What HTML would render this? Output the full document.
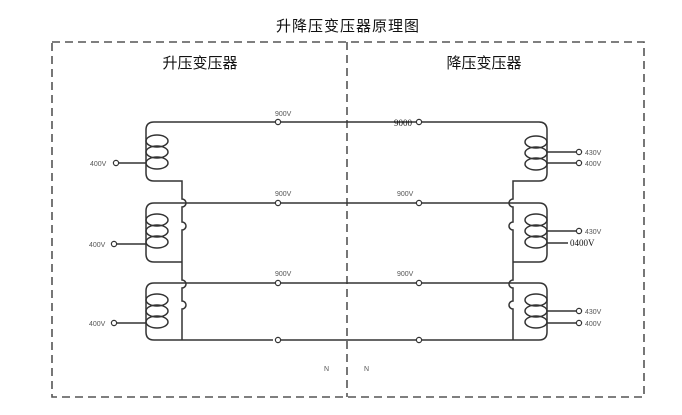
<!DOCTYPE html>
<html><head><meta charset="utf-8"><style>
html,body{margin:0;padding:0;background:#fff;width:682px;height:415px;overflow:hidden}
svg{display:block}
.t{font-family:"Liberation Sans",sans-serif;font-size:7px;fill:#555}
.c{font-family:"Liberation Sans","Noto Sans CJK SC",sans-serif;fill:#111}
</style></head><body>
<svg width="682" height="415" viewBox="0 0 682 415" xmlns="http://www.w3.org/2000/svg">
<g fill="none" stroke="#555" stroke-width="1.6" stroke-dasharray="8,5">
<path d="M52 42 H644 V397 H52 Z"/>
<path d="M347 42 V397"/>
</g>
<text class="c" x="348" y="31" font-size="15" text-anchor="middle" letter-spacing="1">升降压变压器原理图</text>
<text class="c" x="200" y="68" font-size="15" text-anchor="middle">升压变压器</text>
<text class="c" x="484" y="68" font-size="15" text-anchor="middle">降压变压器</text>

<g fill="none" stroke="#333" stroke-width="1.5">
<path d="M276 122 H154 Q146 122 146 130 V173 Q146 181 154 181 H182 V199 a4 4 0 0 1 0 8 V222 a4 4 0 0 1 0 8 V280 a4 4 0 0 1 0 8 V301 a4 4 0 0 1 0 8 V340"/>
<path d="M276 203 H154 Q146 203 146 211 V254 Q146 262 154 262 H182"/>
<path d="M276 283 H154 Q146 283 146 291 V332 Q146 340 154 340 H273"/>

<path d="M280 122 H416"/><path d="M422 122 H539 Q547 122 547 130 V173 Q547 181 539 181 H513 V199 a4 4 0 0 0 0 8 V222 a4 4 0 0 0 0 8 V280 a4 4 0 0 0 0 8 V301 a4 4 0 0 0 0 8 V340"/>
<path d="M280 203 H416"/><path d="M422 203 H539 Q547 203 547 211 V254 Q547 262 539 262 H513"/>
<path d="M280 283 H416"/><path d="M422 283 H539 Q547 283 547 291 V332 Q547 340 539 340 H422"/>
<path d="M280 340 H416"/>

<ellipse cx="157" cy="141" rx="11" ry="6"/><ellipse cx="157" cy="152" rx="11" ry="6"/><ellipse cx="157" cy="163" rx="11" ry="6"/>
<ellipse cx="157" cy="220" rx="11" ry="6"/><ellipse cx="157" cy="231" rx="11" ry="6"/><ellipse cx="157" cy="242" rx="11" ry="6"/>
<ellipse cx="157" cy="300" rx="11" ry="6"/><ellipse cx="157" cy="311" rx="11" ry="6"/><ellipse cx="157" cy="322" rx="11" ry="6"/>
<ellipse cx="536" cy="142" rx="11" ry="6"/><ellipse cx="536" cy="153" rx="11" ry="6"/><ellipse cx="536" cy="164" rx="11" ry="6"/>
<ellipse cx="536" cy="220" rx="11" ry="6"/><ellipse cx="536" cy="231" rx="11" ry="6"/><ellipse cx="536" cy="242" rx="11" ry="6"/>
<ellipse cx="536" cy="300" rx="11" ry="6"/><ellipse cx="536" cy="311" rx="11" ry="6"/><ellipse cx="536" cy="322" rx="11" ry="6"/>

<path d="M119 163 H146"/><path d="M117 244 H146"/><path d="M117 323 H146"/>
<path d="M547 152 H576"/><path d="M547 163 H576"/>
<path d="M547 231 H576"/><path d="M547 243 H568"/>
<path d="M547 311 H576"/><path d="M547 323 H576"/>
</g>
<g fill="#fff" stroke="#333" stroke-width="1.2">
<circle cx="116" cy="163" r="2.6"/><circle cx="114" cy="244" r="2.6"/><circle cx="114" cy="323" r="2.6"/>
<circle cx="278" cy="122" r="2.6"/><circle cx="278" cy="203" r="2.6"/><circle cx="278" cy="283" r="2.6"/><circle cx="278" cy="340" r="2.6"/>
<circle cx="419" cy="122" r="2.6"/><circle cx="419" cy="203" r="2.6"/><circle cx="419" cy="283" r="2.6"/><circle cx="419" cy="340" r="2.6"/>
<circle cx="579" cy="152" r="2.6"/><circle cx="579" cy="163" r="2.6"/>
<circle cx="579" cy="231" r="2.6"/>
<circle cx="579" cy="311" r="2.6"/><circle cx="579" cy="323" r="2.6"/>
</g>
<text class="t" x="90" y="166">400V</text>
<text class="t" x="89" y="247">400V</text>
<text class="t" x="89" y="326">400V</text>
<text class="t" x="275" y="116">900V</text>
<text class="t" x="275" y="196">900V</text>
<text class="t" x="275" y="276">900V</text>
<text class="t" x="397" y="196">900V</text>
<text class="t" x="397" y="276">900V</text>
<text x="394" y="126" font-family="Liberation Serif,serif" font-size="9" fill="#111">9000</text>
<text class="t" x="585" y="155">430V</text>
<text class="t" x="585" y="166">400V</text>
<text class="t" x="585" y="234">430V</text>
<text x="570" y="246" font-family="Liberation Serif,serif" font-size="9" fill="#111">0400V</text>
<text class="t" x="585" y="314">430V</text>
<text class="t" x="585" y="326">400V</text>
<text class="t" x="324" y="371">N</text>
<text class="t" x="364" y="371">N</text>
</svg>
</body></html>
